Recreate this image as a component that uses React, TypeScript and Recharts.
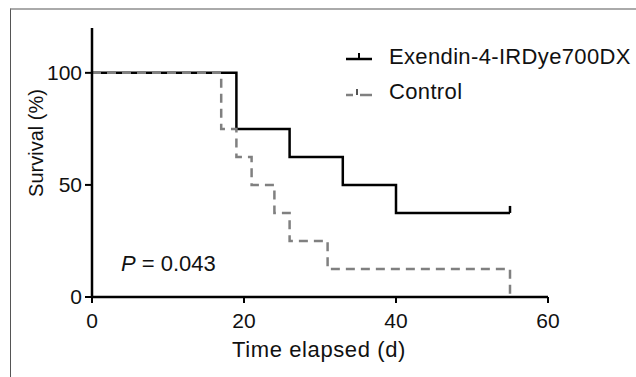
import { LineChart, Line, XAxis, YAxis, Label } from 'recharts';

const exendinTime = [0, 19, 26, 33, 40, 55];
const exendinSurvival = [100, 75, 62.5, 50, 37.5, 37.5];
const exendinCensored = [55];

const controlTime = [0, 17, 19, 21, 24, 26, 31, 55];
const controlSurvival = [100, 75, 62.5, 50, 37.5, 25, 12.5, 0];

const xTicks = [0, 20, 40, 60];
const yTicks = [0, 50, 100];

const SERIES = [
  { name: 'Exendin-4-IRDye700DX', color: '#000000', dash: undefined as string | undefined },
  { name: 'Control', color: '#808080', dash: '9 6' },
];

const FONT = '"Liberation Sans", Arial, sans-serif';

const exendinData = exendinTime.map((t, i) => ({ t, s: exendinSurvival[i] }));
const controlData = controlTime.map((t, i) => ({ t, s: controlSurvival[i] }));

const CensorDot = (props: any) => {
  const { cx, cy, payload, index } = props;
  if (!exendinCensored.includes(payload.t)) return <g key={`d-${index}`} />;
  return <line key={`d-${index}`} x1={cx} y1={cy} x2={cx} y2={cy - 7} stroke="#000" strokeWidth={2.5} />;
};

const CustomLegend = () => (
  <div style={{ fontFamily: FONT, fontSize: 22, letterSpacing: 0.35, color: '#111' }}>
    {SERIES.map((s, i) => (
      <div key={s.name} style={{ display: 'flex', alignItems: 'center', height: 35 }}>
        <svg width={30} height={14} style={{ marginRight: 14 }}>
          {i === 0 ? (
            <>
              <line x1={1} y1={9} x2={27} y2={9} stroke={s.color} strokeWidth={2.5} />
              <line x1={14} y1={3} x2={14} y2={9} stroke={s.color} strokeWidth={2} />
            </>
          ) : (
            <>
              <line x1={1} y1={10} x2={8} y2={10} stroke={s.color} strokeWidth={2.5} />
              <line x1={12} y1={4} x2={12} y2={10} stroke="#555" strokeWidth={2} />
              <line x1={15} y1={10} x2={27} y2={10} stroke={s.color} strokeWidth={2.5} />
            </>
          )}
        </svg>
        <span>{s.name}</span>
      </div>
    ))}
  </div>
);

export default function App() {
  const tickStyle = { fill: '#111', fontSize: 21, fontFamily: FONT };
  return (
    <div style={{ position: 'absolute', left: 0, top: 0, width: 636, height: 377, background: '#fff' }}>
      {/* gray frame round the figure */}
      <div
        style={{
          position: 'absolute', left: 10, top: 8, width: 626, height: 369,
          borderTop: '2px solid #aaa', borderLeft: '1px solid #555',
        }}
      />
      <LineChart width={636} height={377} margin={{ top: 28, right: 88, bottom: 30, left: 0 }}>
        <XAxis
          type="number"
          dataKey="t"
          domain={[0, 60]}
          ticks={xTicks}
          height={50}
          tickSize={6}
          tickMargin={10}
          axisLine={{ stroke: '#000', strokeWidth: 2.5 }}
          tickLine={{ stroke: '#000', strokeWidth: 2 }}
          tick={tickStyle}
        >
          <Label
            content={() => (
              <text x={319} y={357} textAnchor="middle" fill="#111" fontSize={22} letterSpacing={0.6} fontFamily={FONT}>
                Time elapsed (d)
              </text>
            )}
          />
        </XAxis>
        <YAxis
          type="number"
          dataKey="s"
          domain={[0, 120]}
          ticks={yTicks}
          width={92}
          tickSize={7}
          tickMargin={3}
          axisLine={{ stroke: '#000', strokeWidth: 2.5 }}
          tickLine={{ stroke: '#000', strokeWidth: 2 }}
          tick={tickStyle}
        >
          <Label
            content={() => (
              <text
                x={43}
                y={143}
                transform="rotate(-90 43 143)"
                textAnchor="middle"
                fill="#111"
                fontSize={20}
                fontFamily={FONT}
              >
                Survival (%)
              </text>
            )}
          />
        </YAxis>
        <Line
          data={exendinData}
          dataKey="s"
          name={SERIES[0].name}
          type="stepAfter"
          stroke={SERIES[0].color}
          strokeWidth={2.5}
          dot={CensorDot}
          activeDot={false}
          isAnimationActive={false}
        />
        <Line
          data={controlData}
          dataKey="s"
          name={SERIES[1].name}
          type="stepAfter"
          stroke={SERIES[1].color}
          strokeWidth={2.5}
          strokeDasharray={SERIES[1].dash}
          dot={false}
          activeDot={false}
          isAnimationActive={false}
        />
      </LineChart>
      <div style={{ position: 'absolute', left: 345, top: 39 }}>
        <CustomLegend />
      </div>
      <div
        style={{
          position: 'absolute', left: 121, top: 251, fontFamily: FONT, fontSize: 22, color: '#111',
        }}
      >
        <i>P</i> = 0.043
      </div>
    </div>
  );
}
